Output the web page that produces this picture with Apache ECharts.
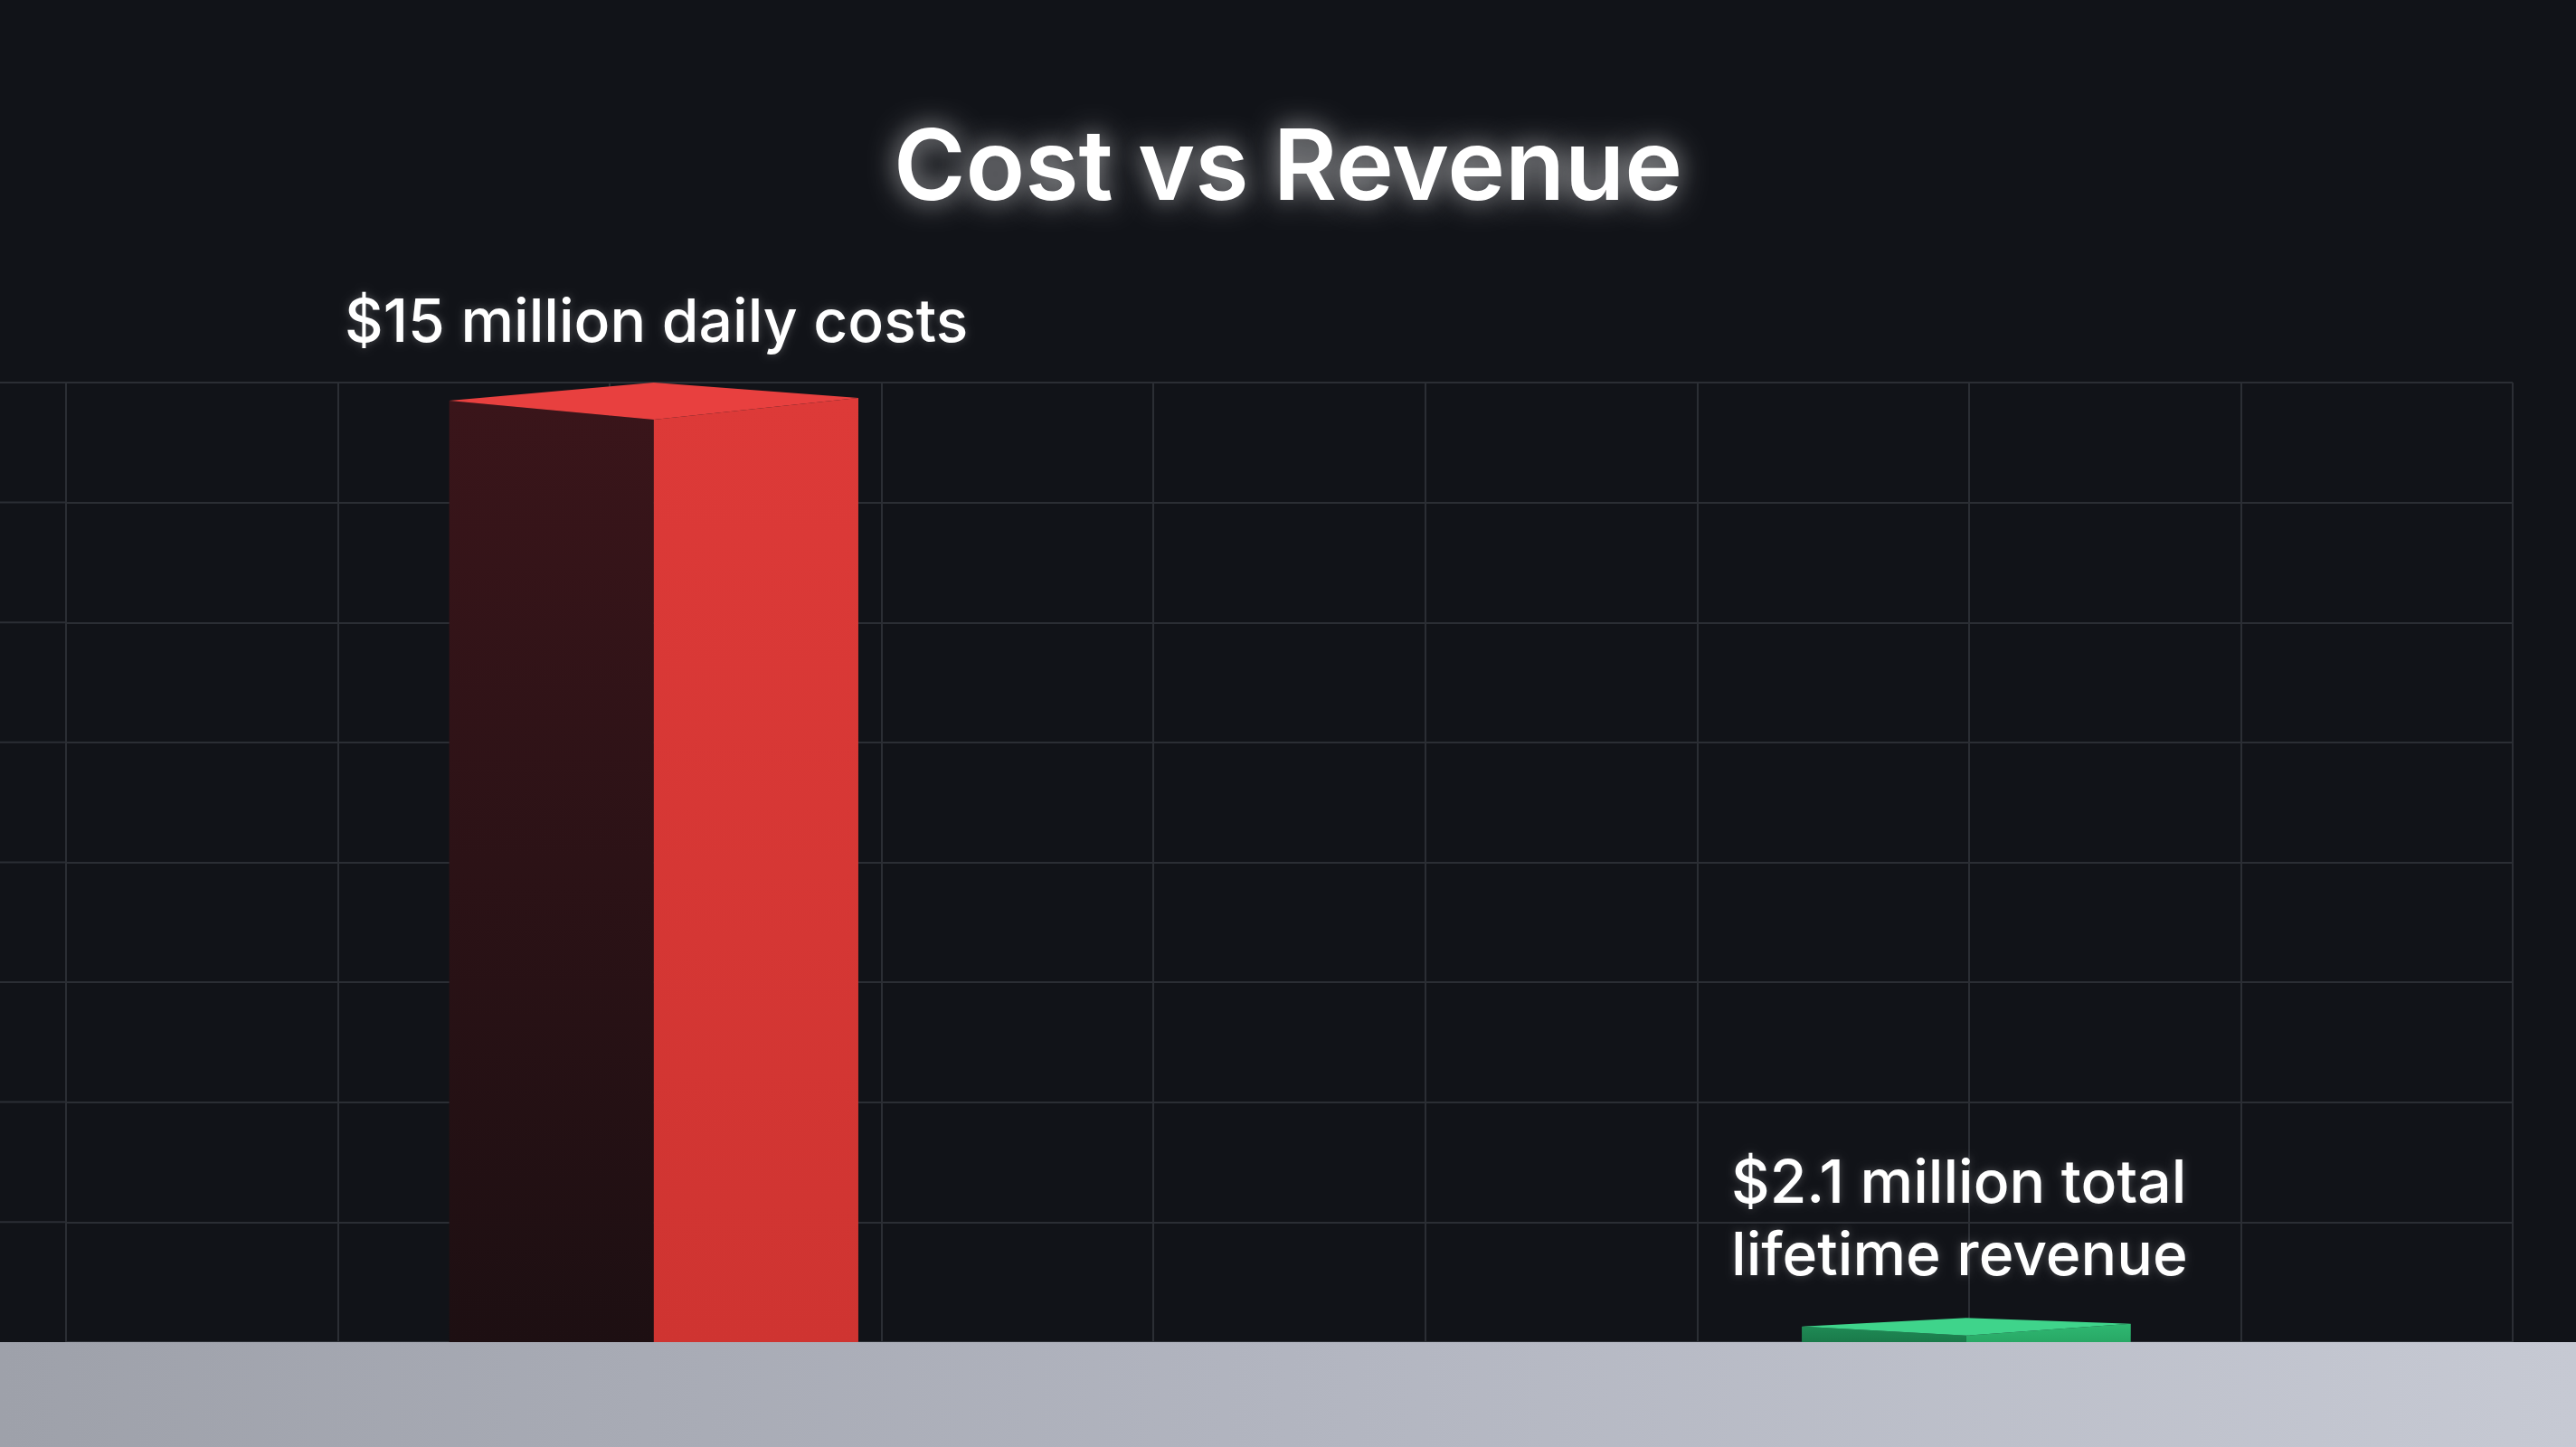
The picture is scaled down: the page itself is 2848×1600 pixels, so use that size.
<!DOCTYPE html>
<html>
<head>
<meta charset="utf-8">
<script src="https://cdn.jsdelivr.net/npm/echarts@6/dist/echarts.min.js"></script>
<style>
  html, body { margin: 0; padding: 0; background: #111318; }
  #chart { width: 2848px; height: 1600px; }
</style>
</head>
<body>
<div id="chart"></div>
<script>
// ======================
// DATA
// ======================
const categories = ['Cost', 'Revenue'];
const barPositions = [2.162, 6.99];   // x position on the hidden value axis
const barValues = [15.7, 0.26];       // visual heights
const barLabels = [['$15 million daily costs'], ['$2.1 million total', 'lifetime revenue']];
const titleText = 'Cost vs Revenue';

// ======================
// STYLES
// ======================
const barStyles = [
    { width: 1.505, depth: 21, left: ['#3a151a', '#1d0f12'], right: ['#dd3a38', '#cf3431'], top: '#e8403f' },
    { width: 1.21, depth: 10, left: ['#1f8a55', '#1a7a4a'], right: ['#2fb872', '#28a865'], top: '#3fd48b' }
];

const chart = echarts.init(document.getElementById('chart'));

function renderBar(params, api) {
    const i = params.dataIndex;
    const s = barStyles[i];
    const x = api.value(0);
    const top = api.coord([x, api.value(1)]);
    const bottom = api.coord([x, 0]);
    const l = api.coord([x - s.width / 2, 0])[0];
    const r = api.coord([x + s.width / 2, 0])[0];
    const c = top[0];
    const t = top[1], b = bottom[1], d = s.depth;
    const grad = (cols) => new echarts.graphic.LinearGradient(0, 0, 0, 1,
        [{ offset: 0, color: cols[0] }, { offset: 1, color: cols[1] }]);
    return {
        type: 'group',
        children: [
            { type: 'polygon', shape: { points: [[l, t], [c, t + d], [c, b], [l, b]] }, style: { fill: grad(s.left) } },
            { type: 'polygon', shape: { points: [[c, t + d], [r, t - 3], [r, b], [c, b]] }, style: { fill: grad(s.right) } },
            { type: 'polygon', shape: { points: [[l, t], [c, t - d * 0.95], [r, t - 3], [c, t + d]] }, style: { fill: s.top } }
        ]
    };
}

const labelStyle = {
    fill: '#ffffff', font: '500 66px Inter, "Noto Sans", sans-serif', textShadowBlur: 10, textShadowColor: 'rgba(255,255,255,0.25)'
};

const option = {
    backgroundColor: '#111318',
    animation: false,
    title: {
        text: titleText,
        left: 'center',
        top: 130,
        textStyle: {
            color: '#ffffff', fontSize: 108, fontWeight: 600, fontFamily: 'Inter, "Noto Sans", sans-serif',
            textShadowBlur: 30, textShadowColor: 'rgba(255,255,255,0.7)'
        }
    },
    grid: { left: 73, right: 70, top: 423, bottom: 116 },
    xAxis: {
        type: 'value', min: 0, max: 9, interval: 1,
        axisLine: { show: false }, axisTick: { show: false }, axisLabel: { show: false },
        splitLine: { show: true, lineStyle: { color: '#2b2e34', width: 2 } }
    },
    yAxis: {
        type: 'value', min: 0, max: 16, interval: 2,
        axisLine: { show: false }, axisTick: { show: false }, axisLabel: { show: false },
        splitLine: { show: true, lineStyle: { color: '#2b2e34', width: 2 } }
    },
    series: [{
        type: 'custom',
        name: 'Bars',
        renderItem: renderBar,
        data: categories.map((c, i) => [barPositions[i], barValues[i]]),
        z: 5
    }],
    graphic: [
        // horizontal grid lines continue to the left canvas edge
        {
            type: 'group', z: 1, children: [0, 1, 2, 3, 4, 5, 6, 7].map(k => ({
                type: 'line', shape: { x1: 0, y1: 423 + k * 132.6, x2: 73, y2: 423 + k * 132.6 },
                style: { stroke: '#2b2e34', lineWidth: 2 }
            }))
        },
        {
            type: 'rect', shape: { x: 0, y: 1484, width: 2848, height: 116 }, z: 10,
            style: { fill: new echarts.graphic.LinearGradient(0, 0, 1, 0, [
                { offset: 0, color: '#9ea1aa' }, { offset: 0.5, color: '#b2b5c0' }, { offset: 1, color: '#c6c9d3' }]) }
        },
        { type: 'text', left: 381, top: 318, z: 20, style: Object.assign({ text: barLabels[0].join('\n'), lineHeight: 80 }, labelStyle) },
        { type: 'text', left: 1914, top: 1270, z: 20, style: Object.assign({ text: barLabels[1].join('\n'), lineHeight: 80 }, labelStyle) }
    ]
};

chart.setOption(option);
</script>
</body>
</html>
